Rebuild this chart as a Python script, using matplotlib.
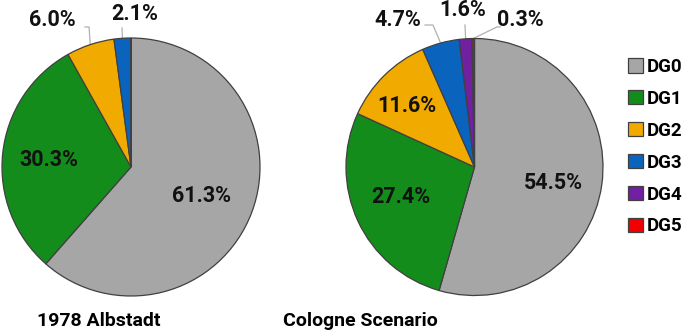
import matplotlib
matplotlib.use("Agg")
import numpy as np
import matplotlib.pyplot as plt

plt.rcParams["font.family"] = ["Roboto", "DejaVu Sans"]
plt.rcParams["font.weight"] = "bold"

categories = ["DG0", "DG1", "DG2", "DG3", "DG4", "DG5"]
colors = ["#A6A6A6", "#148C1C", "#F0AA00", "#0A64BE", "#7020A0", "#F00000"]

albstadt = [61.3, 30.3, 6.0, 2.1, 0.0, 0.0]
cologne = [54.5, 27.4, 11.6, 4.7, 1.6, 0.3]
titles = ["1978 Albstadt", "Cologne Scenario"]

W, H = 685, 336

# label placement in pie units (radius = 1): text position, optional leader points
left_labels = {
    0: dict(xy=(0.543, -0.225)),
    1: dict(xy=(-0.636, 0.058)),
    2: dict(xy=(-0.61, 1.14), lead=[(-0.357, 1.085), (-0.325, 1.085)]),
    3: dict(xy=(0.031, 1.186), lead=[(-0.07, 1.078)]),
}
right_labels = {
    0: dict(xy=(0.611, -0.125)),
    1: dict(xy=(-0.572, -0.237)),
    2: dict(xy=(-0.525, 0.475)),
    3: dict(xy=(-0.60, 1.144), lead=[(-0.385, 1.105), (-0.323, 1.105)]),
    4: dict(xy=(-0.09, 1.222), lead=[(-0.074, 1.105)]),
    5: dict(xy=(0.354, 1.144), lead=[(0.20, 1.09), (0.175, 1.09)]),
}


def add_pie(cx, cy, r, values, labels):
    ax = fig.add_axes([(cx - r) / W, (H - cy - r) / H, 2 * r / W, 2 * r / H])
    wedges, _ = ax.pie(values, colors=colors, startangle=90, counterclock=False,
                       radius=1.0,
                       wedgeprops=dict(edgecolor="#404040", linewidth=0.9))
    ax.set_xlim(-1, 1)
    ax.set_ylim(-1, 1)
    ax.set_aspect("equal")
    ax.axis("off")
    for i, spec in labels.items():
        tx, ty = spec["xy"]
        ax.text(tx, ty, f"{values[i]:.1f}%", ha="center", va="center",
                fontsize=15.5, fontweight="bold", color="#111111", clip_on=False)
        if "lead" in spec:
            w = wedges[i]
            mid = np.deg2rad((w.theta1 + w.theta2) / 2)
            pts = spec["lead"] + [(np.cos(mid), np.sin(mid))]
            ax.plot([p[0] for p in pts], [p[1] for p in pts], color="#B0B0B0",
                    lw=0.9, clip_on=False, zorder=0)
    return wedges


fig = plt.figure(figsize=(W / 100, H / 100), dpi=100)
add_pie(131, 167, 129, albstadt, left_labels)
wedges = add_pie(474.5, 167, 128.5, cologne, right_labels)

fig.text(99 / W, 1 - 321 / H, titles[0], ha="center", va="center",
         fontsize=14, fontweight="bold")
fig.text(360 / W, 1 - 321 / H, titles[1], ha="center", va="center",
         fontsize=14, fontweight="bold")

fig.legend(wedges, categories, loc="upper left", bbox_to_anchor=(628 / W, 1 - 58 / H),
           frameon=False, handlelength=0.78, handleheight=0.78, handletextpad=0.2,
           labelspacing=0.74, borderpad=0, borderaxespad=0,
           prop=dict(size=13.5, weight="bold"))

fig.savefig("out.png", dpi=100, facecolor="white")
